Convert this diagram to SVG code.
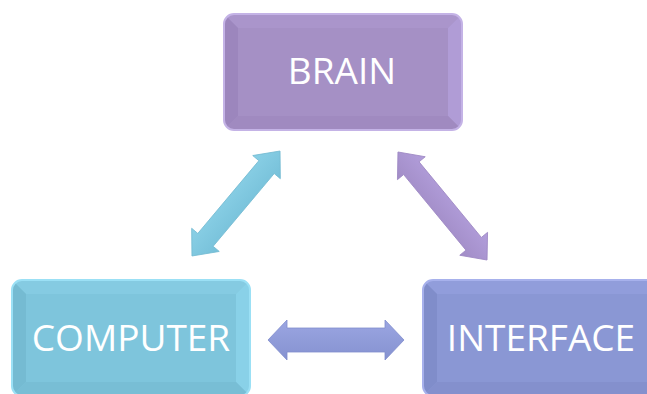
<svg xmlns="http://www.w3.org/2000/svg" width="647" height="394" viewBox="0 0 647 394">
<style>
.lbl{font-family:"Open Sans","Liberation Sans",sans-serif;font-size:37px;fill:#ffffff;text-anchor:middle}
.edge{stroke-width:2;fill:none}
</style>
<defs>
<clipPath id="cb"><rect x="224" y="14" width="238" height="116" rx="10"/></clipPath>
<clipPath id="cc"><rect x="12" y="280" width="238" height="116" rx="10"/></clipPath>
<clipPath id="ci"><rect x="423" y="280" width="238" height="116" rx="10"/></clipPath>
<linearGradient id="gBlue" x1="0" y1="0" x2="0" y2="1"><stop offset="0" stop-color="#8ad0e6"/><stop offset="1" stop-color="#76c0d9"/></linearGradient>
<linearGradient id="gPurp" x1="0" y1="0" x2="0" y2="1"><stop offset="0" stop-color="#b29edb"/><stop offset="1" stop-color="#a18cc6"/></linearGradient>
<linearGradient id="gPeri" x1="0" y1="0" x2="0" y2="1"><stop offset="0" stop-color="#9ba6e2"/><stop offset="1" stop-color="#8592d0"/></linearGradient>
</defs>
<g id="connectors">
<polygon transform="translate(236,203.5) rotate(-50)" points="-68.5,0 -47.5,-18 -47.5,-10 47.5,-10 47.5,-18 68.5,0 47.5,18 47.5,10 -47.5,10 -47.5,18" fill="url(#gBlue)" stroke="#74bbd2" stroke-width="0.8"/>
<polygon transform="translate(442.5,206) rotate(50.5)" points="-70,0 -49,-18 -49,-10 49,-10 49,-18 70,0 49,18 49,10 -49,10 -49,18" fill="url(#gPurp)" stroke="#9d88c3" stroke-width="0.8"/>
<polygon transform="translate(336,340)" points="-68,0 -49,-20 -49,-12 49,-12 49,-20 68,0 49,20 49,12 -49,12 -49,20" fill="url(#gPeri)" stroke="#808dcd" stroke-width="0.8"/>
</g>
<g id="brain">
<rect x="224" y="14" width="238" height="116" rx="10" fill="#a590c5"/>
<g clip-path="url(#cb)">
<polygon points="224,14 462,14 448,28 238,28" fill="#aa95cb"/>
<polygon points="224,14 238,28 238,116 224,130" fill="#9c86bd"/>
<polygon points="462,14 462,130 448,116 448,28" fill="#b09cd6"/>
<polygon points="224,130 238,116 448,116 462,130" fill="#a08ac0"/>
</g>
<rect x="224" y="14" width="238" height="116" rx="10" class="edge" stroke="#c4b3e6"/>
<text x="342" y="84" class="lbl">BRAIN</text>
</g>
<g id="computer">
<rect x="12" y="280" width="238" height="116" rx="10" fill="#7ec5dc"/>
<g clip-path="url(#cc)">
<polygon points="12,280 250,280 236,294 26,294" fill="#85cbe2"/>
<polygon points="12,280 26,294 26,382 12,396" fill="#75bbd2"/>
<polygon points="250,280 250,396 236,382 236,294" fill="#89d1e8"/>
<polygon points="12,396 26,382 236,382 250,396" fill="#78bed5"/>
</g>
<rect x="12" y="280" width="238" height="116" rx="10" class="edge" stroke="#9be0f5"/>
<text x="131" y="351" class="lbl">COMPUTER</text>
</g>
<g id="interface">
<rect x="423" y="280" width="238" height="116" rx="10" fill="#8a97d4"/>
<g clip-path="url(#ci)">
<polygon points="423,280 661,280 647,294 437,294" fill="#919ddb"/>
<polygon points="423,280 437,294 437,382 423,396" fill="#808dca"/>
<polygon points="661,280 661,396 647,382 647,294" fill="#95a1e0"/>
<polygon points="423,396 437,382 647,382 661,396" fill="#8490cd"/>
</g>
<rect x="423" y="280" width="238" height="116" rx="10" class="edge" stroke="#a7b1ec"/>
<text x="541" y="351" class="lbl">INTERFACE</text>
</g>
</svg>
